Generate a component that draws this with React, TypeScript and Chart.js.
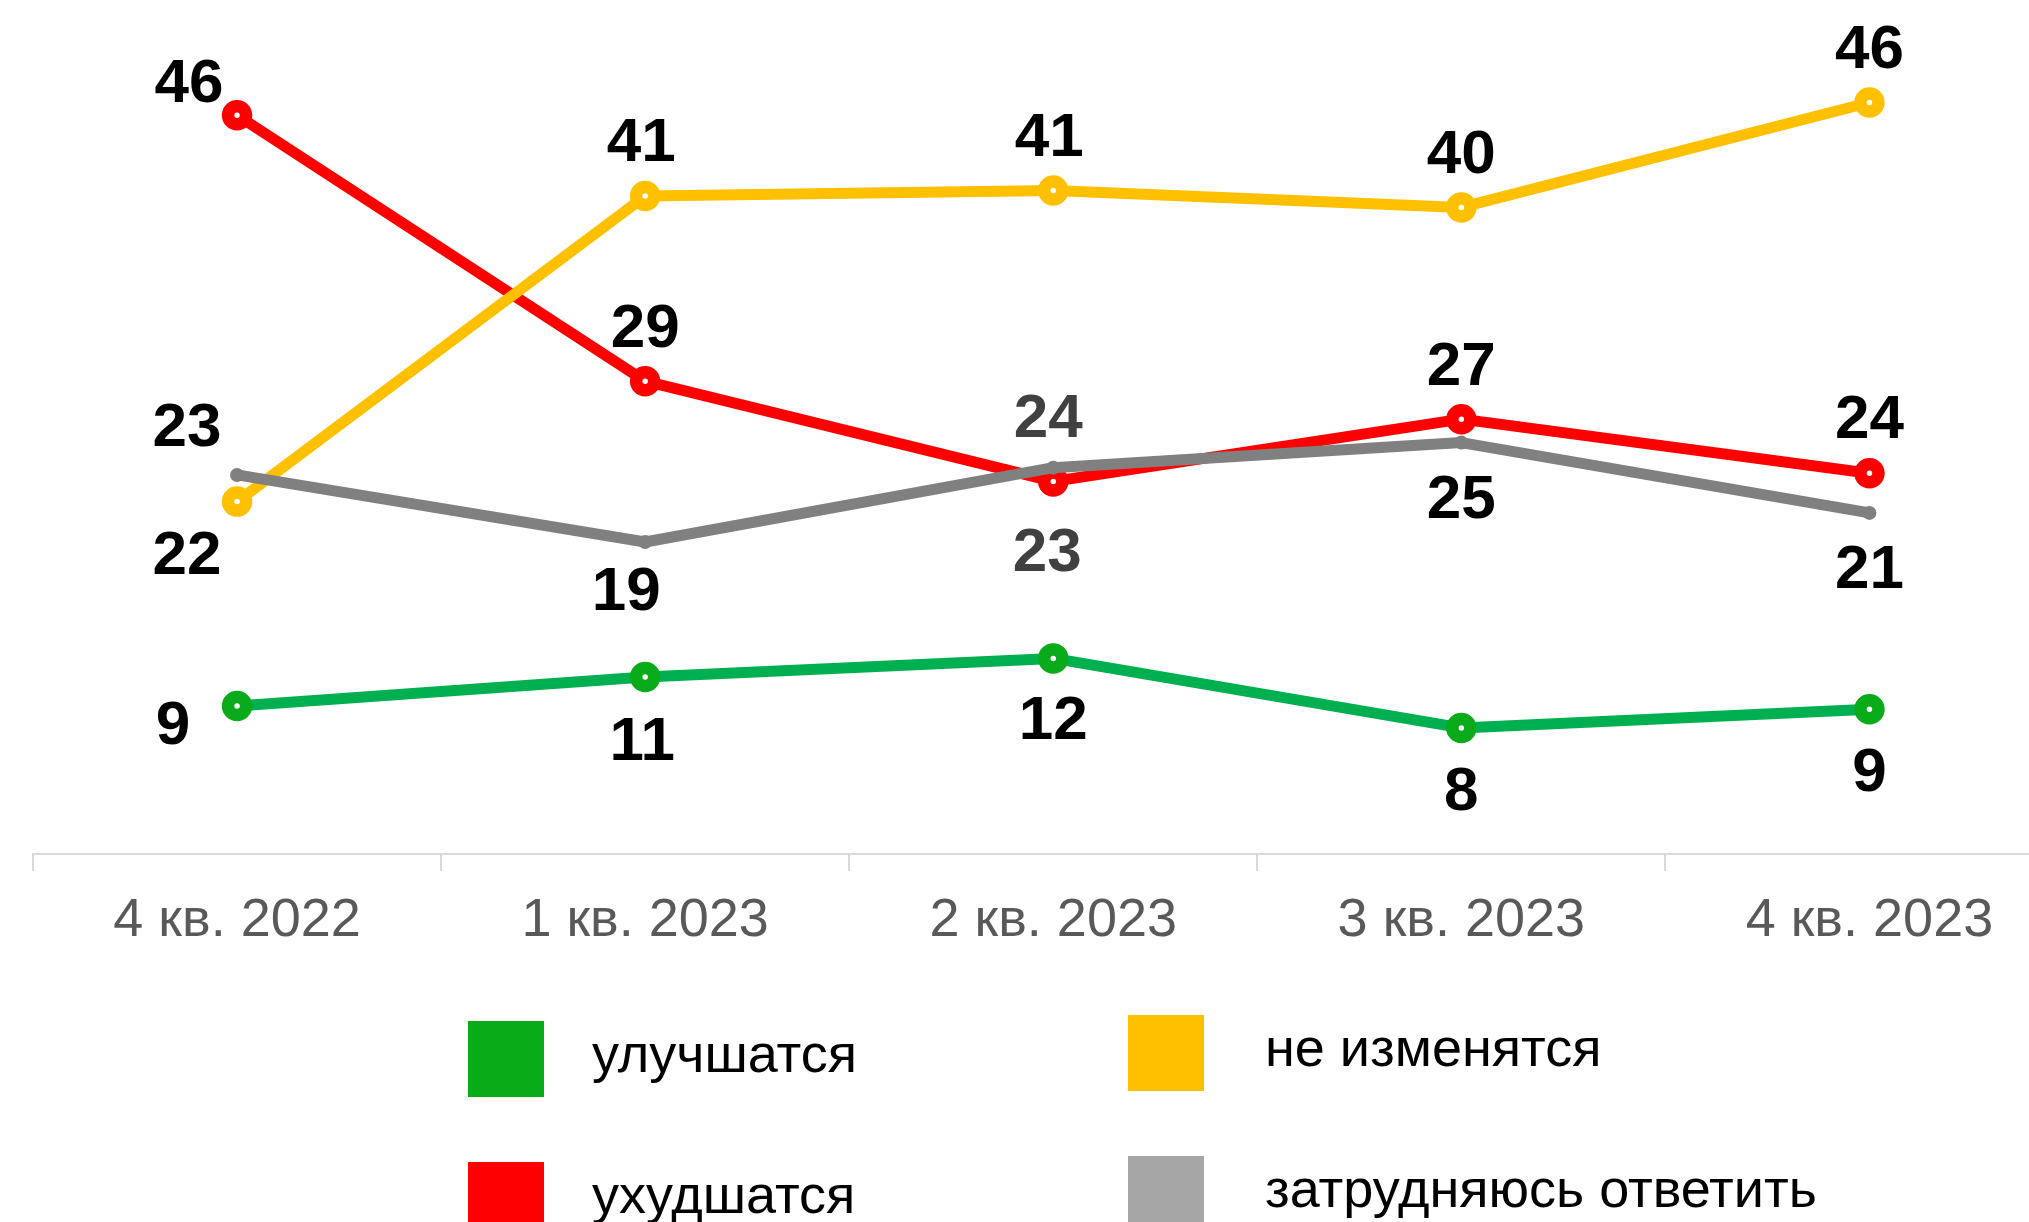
import React, { useEffect, useRef } from 'react';
import { Chart, registerables } from 'chart.js';

Chart.register(...registerables);

// ---- data ----
const categories = ['4 кв. 2022', '1 кв. 2023', '2 кв. 2023', '3 кв. 2023', '4 кв. 2023'];
const improve = [9.15, 10.95, 12.1, 7.8, 8.95];
const worsen = [45.7, 29.25, 23.05, 26.9, 23.55];
const unchanged = [21.8, 40.7, 41.05, 40.0, 46.49];
const hardToSay = [23.45, 19.3, 23.9, 25.45, 21.1];
const seriesNames = ['улучшатся', 'ухудшатся', 'не изменятся', 'затрудняюсь ответить'];

// ---- styles ----
const FONT = '"Liberation Sans", Arial, sans-serif';
const GREEN_LINE = '#00B050';
const GREEN_MARK = '#0AAB1A';
const RED = '#FF0000';
const YELLOW = '#FFC000';
const GRAY_LINE = '#808080';
const GRAY_LEGEND = '#A6A6A6';
const DARK = '#404040';

// label placement (dx, dy of label centre from its point)
const improveLabelOffsets = [[-64, 16], [-3, 61], [0, 59], [0, 60], [0, 60]];
const worsenLabelOffsets = [[-48, -35], [0, -56], [-6, 68], [0, -56], [0, -57]];
const unchangedLabelOffsets = [[-50, 50], [-4, -57], [-4, -56], [0, -56], [0, -56]];
const hardLabelOffsets = [[-50, -51], [-19, 46], [-5, -53], [0, 53], [0, 53]];

const valueLabelsPlugin = {
  id: 'valueLabels',
  afterDatasetsDraw(chart: any) {
    const ctx = chart.ctx;
    ctx.save();
    ctx.font = `bold 62px ${FONT}`;
    ctx.textAlign = 'center';
    ctx.textBaseline = 'alphabetic';
    chart.data.datasets.forEach((ds: any, i: number) => {
      const meta = chart.getDatasetMeta(i);
      meta.data.forEach((pt: any, j: number) => {
        const [dx, dy] = ds.labelOffsets[j];
        ctx.fillStyle = ds.labelColors[j];
        ctx.fillText(String(Math.round(ds.data[j])), pt.x + dx, pt.y + dy + 22);
      });
    });
    ctx.restore();
  },
};

const legendItems = [
  { name: seriesNames[0], color: '#0AAB18', boxX: 468, textX: 592, top: 1021 },
  { name: seriesNames[2], color: YELLOW, boxX: 1128, textX: 1265, top: 1015 },
  { name: seriesNames[1], color: RED, boxX: 468, textX: 592, top: 1162 },
  { name: seriesNames[3], color: GRAY_LEGEND, boxX: 1128, textX: 1265, top: 1156 },
];

const gridLegendPlugin = {
  id: 'gridLegend',
  afterDraw(chart: any) {
    const ctx = chart.ctx;
    ctx.save();
    ctx.font = `54px ${FONT}`;
    ctx.textAlign = 'left';
    ctx.textBaseline = 'alphabetic';
    legendItems.forEach((it) => {
      ctx.fillStyle = it.color;
      ctx.fillRect(it.boxX, it.top, 76, 76);
      ctx.fillStyle = '#000000';
      ctx.fillText(it.name, it.textX, it.top + 51);
    });
    ctx.restore();
  },
};

const CANVAS_W = 2095;
const CANVAS_H = 1222;

export default function App() {
  const canvasRef = useRef<HTMLCanvasElement | null>(null);

  useEffect(() => {
    if (!canvasRef.current) return;
    const circle = {
      pointRadius: 9,
      pointHoverRadius: 9,
      pointBorderWidth: 12.5,
      pointBackgroundColor: '#FFFFFF',
      borderWidth: 11,
      tension: 0,
      borderJoinStyle: 'round' as const,
      borderCapStyle: 'round' as const,
    };
    const chart = new Chart(canvasRef.current, {
      type: 'line',
      data: {
        labels: categories,
        datasets: [
          {
            label: seriesNames[3],
            data: hardToSay,
            borderColor: GRAY_LINE,
            pointBackgroundColor: GRAY_LINE,
            pointBorderColor: GRAY_LINE,
            pointRadius: 4,
            pointHoverRadius: 4,
            pointBorderWidth: 6,
            borderWidth: 11,
            tension: 0,
            borderJoinStyle: 'round',
            order: 0,
            labelOffsets: hardLabelOffsets,
            labelColors: ['#000', '#000', DARK, '#000', '#000'],
          } as any,
          {
            label: seriesNames[2],
            data: unchanged,
            borderColor: YELLOW,
            pointBorderColor: YELLOW,
            ...circle,
            order: 1,
            labelOffsets: unchangedLabelOffsets,
            labelColors: ['#000', '#000', '#000', '#000', '#000'],
          } as any,
          {
            label: seriesNames[1],
            data: worsen,
            borderColor: RED,
            pointBorderColor: RED,
            ...circle,
            order: 2,
            labelOffsets: worsenLabelOffsets,
            labelColors: ['#000', '#000', DARK, '#000', '#000'],
          } as any,
          {
            label: seriesNames[0],
            data: improve,
            borderColor: GREEN_LINE,
            pointBorderColor: GREEN_MARK,
            ...circle,
            order: 3,
            labelOffsets: improveLabelOffsets,
            labelColors: ['#000', '#000', '#000', '#000', '#000'],
          } as any,
        ],
      },
      options: {
        responsive: false,
        maintainAspectRatio: false,
        animation: false,
        devicePixelRatio: 1,
        layout: { padding: { left: 33, right: 0, top: 0, bottom: 0 } },
        plugins: {
          legend: { display: false },
          tooltip: { enabled: false },
        },
        scales: {
          x: {
            type: 'category',
            offset: true,
            grid: {
              display: true,
              drawOnChartArea: false,
              drawTicks: true,
              tickLength: 17,
              color: '#D9D9D9',
              lineWidth: 2,
              offset: true,
            },
            border: { display: true, color: '#D9D9D9', width: 2 },
            ticks: {
              color: '#595959',
              font: { family: FONT, size: 54 },
              padding: 18,
              maxRotation: 0,
              autoSkip: false,
            },
            afterFit: (scale: any) => {
              scale.height = 368;
            },
          },
          y: {
            display: false,
            min: 0,
            max: 51.5,
          },
        },
      },
      plugins: [valueLabelsPlugin, gridLegendPlugin],
    });
    return () => chart.destroy();
  }, []);

  return (
    <div
      style={{
        position: 'fixed',
        left: 0,
        top: 0,
        width: 2029,
        height: 1222,
        overflow: 'hidden',
        background: '#FFFFFF',
      }}
    >
      <div style={{ width: CANVAS_W, height: CANVAS_H }}>
        <canvas
          ref={canvasRef}
          width={CANVAS_W}
          height={CANVAS_H}
          style={{ display: 'block', width: CANVAS_W, height: CANVAS_H }}
        />
      </div>
    </div>
  );
}
